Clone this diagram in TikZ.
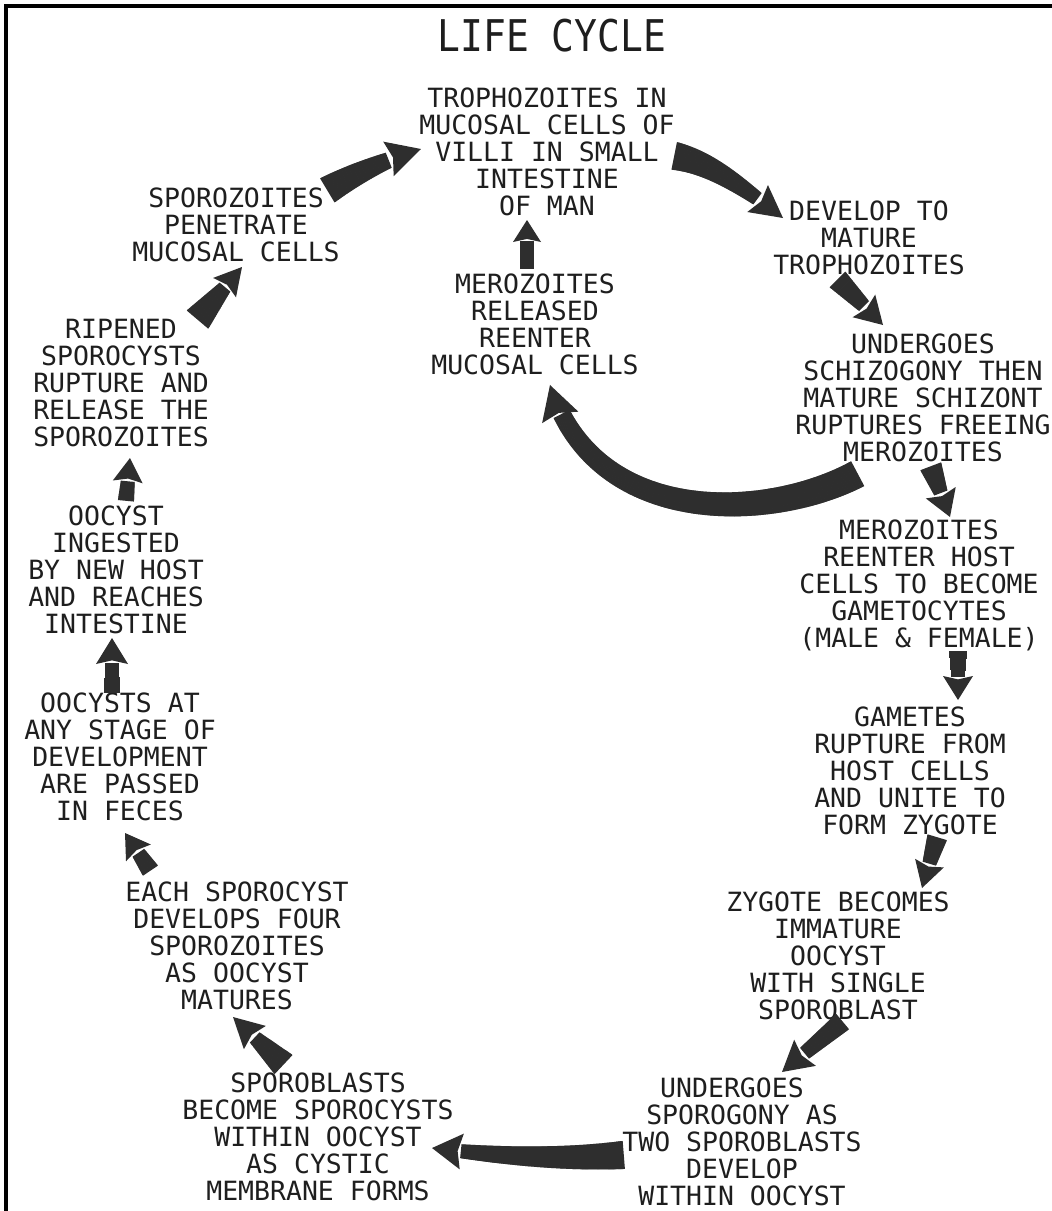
\documentclass[tikz,border=0pt]{standalone}
\usepackage{fontspec}
\newfontfamily\lettering{DejaVu Sans Mono}
\usetikzlibrary{decorations.markings}
\definecolor{ink}{HTML}{1E1E1E}
\definecolor{arrowfill}{HTML}{2E2E2E}
\tikzset{
  lbl/.style={font=\lettering\fontsize{26.5}{27}\selectfont, align=center, inner sep=0pt, text=ink},
  ttl/.style={font=\lettering\fontsize{38}{40}\selectfont, inner sep=0pt, text=ink},
  fatarrow/.style n args={4}{
    postaction={decorate, decoration={markings,
    mark=between positions 0 and -#4pt step 1pt with {%
      \pgfmathsetmacro\dd{\pgfkeysvalueof{/pgf/decoration/mark info/distance from start}}%
      \pgfmathsetmacro\rr{#1+(#2-#1)*\dd/(\pgfdecoratedpathlength-#4)}%
      \fill[arrowfill] (-0.8pt,-\rr pt) rectangle (0.8pt,\rr pt);}}},
    postaction={decorate, decoration={markings,
    mark=at position -1pt with {%
      \fill[arrowfill] (1pt,0pt) -- (1pt-#4pt,#3pt) -- (1pt-0.86*#4pt,0pt) -- (1pt-#4pt,-#3pt) -- cycle;}}}
  },
  frame/.style={line width=3.5pt, draw=black},
}
\begin{document}
\begin{tikzpicture}[x=1pt,y=-1pt]
\useasboundingbox (0,0) rectangle (1052,1211);
\fill[white] (0,0) rectangle (1052,1211);
\draw[frame] (6,1211) -- (6,6) -- (1052,6);

\node[ttl] (title) at (552,36) {\scalebox{1}[1.15]{LIFE CYCLE}};

\node[lbl] (troph) at (547,152) {TROPHOZOITES IN\\MUCOSAL CELLS OF\\VILLI IN SMALL\hspace*{30pt}\\INTESTINE\\OF MAN};
\node[lbl] (dev) at (869,238) {DEVELOP TO\\MATURE\\TROPHOZOITES};
\node[lbl] (schiz) at (923,398) {UNDERGOES\\SCHIZOGONY THEN\\MATURE SCHIZONT\\RUPTURES FREEING\\MEROZOITES};
\node[lbl] (mrel) at (535,324.5) {MEROZOITES\\RELEASED\\REENTER\\MUCOSAL CELLS};
\node[lbl] (mhost) at (919,585) {MEROZOITES\\REENTER HOST\\CELLS TO BECOME\\GAMETOCYTES\\(MALE \& FEMALE)};
\node[lbl] (gam) at (910,771) {GAMETES\\RUPTURE FROM\\HOST CELLS\\AND UNITE TO\\FORM ZYGOTE};
\node[lbl] (zyg) at (838,956) {ZYGOTE BECOMES\\IMMATURE\\OOCYST\\WITH SINGLE\\SPOROBLAST};
\node[lbl] (sporog) at (742,1142) {UNDERGOES\hspace*{20pt}\\SPOROGONY AS\\TWO SPOROBLASTS\\DEVELOP\hspace*{26pt}\\WITHIN OOCYST};
\node[lbl] (sblast) at (318,1137) {SPOROBLASTS\\BECOME SPOROCYSTS\\WITHIN OOCYST\\AS CYSTIC\\MEMBRANE FORMS};
\node[lbl] (each) at (237,946) {EACH SPOROCYST\\DEVELOPS FOUR\\SPOROZOITES\\AS OOCYST\\MATURES};
\node[lbl] (oocysts) at (120,757) {OOCYSTS AT\\ANY STAGE OF\\DEVELOPMENT\hspace*{14pt}\\ARE PASSED\\IN FECES};
\node[lbl] (ingest) at (116,570) {OOCYST\\INGESTED\\BY NEW HOST\\AND REACHES\\INTESTINE};
\node[lbl] (ripe) at (121,383) {RIPENED\\SPOROCYSTS\\RUPTURE AND\\RELEASE THE\\SPOROZOITES};
\node[lbl] (spen) at (236,225) {SPOROZOITES\\PENETRATE\\MUCOSAL CELLS};

% connectors
\path[fatarrow={14}{8}{18}{34}] ([shift={(92,-35)}]spen.center) .. controls +(30,-18) and +(-30,9) .. ([shift={(-126,-3)}]troph.center);
\path[fatarrow={14}{7}{17}{32}] ([shift={(128,4)}]troph.center) .. controls +(35,7) and +(-43,-33) .. ([shift={(-86,-20)}]dev.center);
\path[fatarrow={11}{7}{16}{27}] ([shift={(-31,42)}]dev.center) -- ([shift={(-40,-73)}]schiz.center);
\path[fatarrow={14}{9}{19}{34}] ([shift={(-66,76)}]schiz.center) .. controls +(-87,46) and +(45,145) .. ([shift={(15,60.5)}]mrel.center);
\path[fatarrow={7}{7}{14}{22}] ([shift={(-8,-56.5)}]mrel.center) -- ([shift={(-20,68)}]troph.center);
\path[fatarrow={11}{7}{16}{26}] ([shift={(8,69)}]schiz.center) -- ([shift={(31,-68)}]mhost.center);
\path[fatarrow={9}{7}{15}{24}] ([shift={(39,67)}]mhost.center) -- ([shift={(48,-71)}]gam.center);
\path[fatarrow={10}{7}{15}{26}] ([shift={(27,67)}]gam.center) -- ([shift={(84,-68)}]zyg.center);
\path[fatarrow={10}{7}{17}{30}] ([shift={(4,66)}]zyg.center) -- ([shift={(40,-70)}]sporog.center);
\path[fatarrow={14}{7}{18}{30}] ([shift={(-119,13)}]sporog.center) .. controls +(-63,5) and +(68,8) .. ([shift={(114,11)}]sblast.center);
\path[fatarrow={13}{7}{16}{30}] ([shift={(-35,-73)}]sblast.center) -- ([shift={(-4,71)}]each.center);
\path[fatarrow={9}{7}{15}{24}] ([shift={(-87,-76)}]each.center) -- ([shift={(5,76)}]oocysts.center);
\path[fatarrow={8}{7}{16}{26}] ([shift={(-8,-65)}]oocysts.center) -- ([shift={(-4,68)}]ingest.center);
\path[fatarrow={8}{7}{15}{24}] ([shift={(10,-70)}]ingest.center) -- ([shift={(9,75)}]ripe.center);
\path[fatarrow={14}{7}{15}{27}] ([shift={(77,-64)}]ripe.center) -- ([shift={(6,42)}]spen.center);
\end{tikzpicture}
\end{document}
